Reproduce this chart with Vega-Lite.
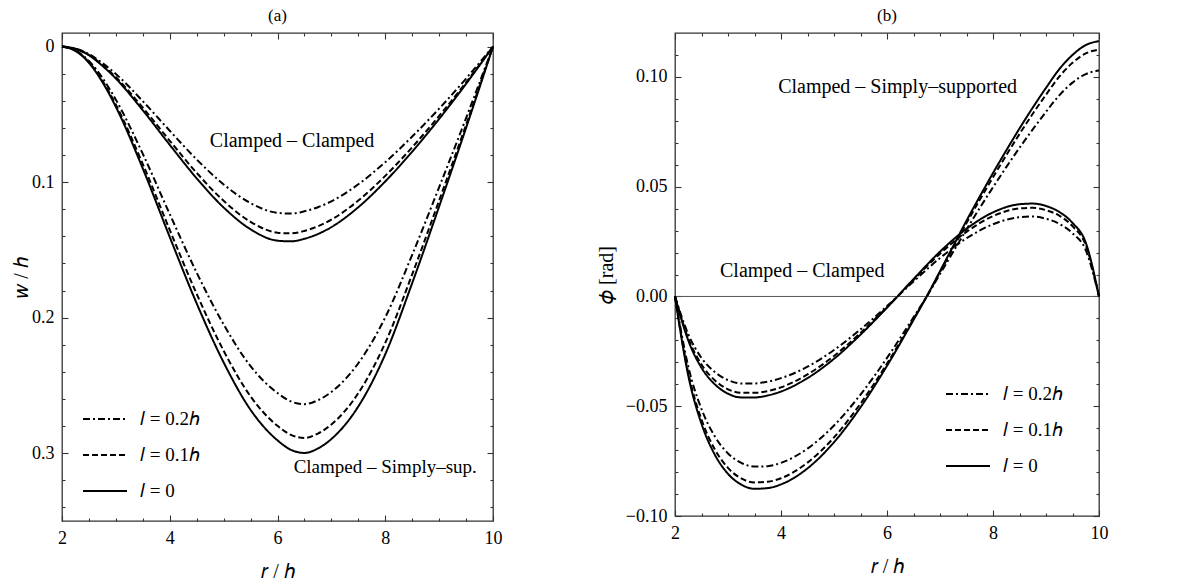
{
  "$schema": "https://vega.github.io/schema/vega-lite/v6.json",
  "padding": {"left": 10, "top": 6, "right": 5, "bottom": 5},
  "spacing": 182,
  "bounds": "flush",
  "config": {
    "font": "Liberation Serif",
    "style": {"guide-label": {"font": "Liberation Serif"}, "guide-title": {"font": "Liberation Serif"}},
    "view": {"stroke": "#333", "strokeWidth": 1.3},
    "axis": {"labelFont": "Liberation Serif", "labelFontSize": 18, "labelColor": "#000", "titleFont": "Liberation Serif", "titleFontSize": 20, "titleFontWeight": "normal", "titleColor": "#000", "tickColor": "#333", "tickWidth": 1.1, "domain": false, "grid": false, "labelFlush": false, "labelOverlap": false},
    "title": {"font": "Liberation Serif", "fontSize": 17, "fontWeight": "normal", "color": "#000", "offset": 7},
    "legend": {"symbolType": "stroke", "symbolSize": 1936, "symbolStrokeWidth": 2, "symbolStrokeColor": "black", "labelFont": "Liberation Serif", "labelFontSize": 19, "labelColor": "black", "labelOffset": 12, "rowPadding": 3, "padding": 0, "labelLimit": 300}
  },
  "datasets": {
    "a": [
      {"f": "CC", "r": 2, "l0": 0, "l1": 0, "l2": 0},
      {"f": "CC", "r": 2.25, "l0": 0.0017, "l1": 0.0016, "l2": 0.0015},
      {"f": "CC", "r": 2.5, "l0": 0.0064, "l1": 0.0061, "l2": 0.0055},
      {"f": "CC", "r": 2.75, "l0": 0.0142, "l1": 0.0136, "l2": 0.0122},
      {"f": "CC", "r": 3, "l0": 0.0236, "l1": 0.0226, "l2": 0.0202},
      {"f": "CC", "r": 3.5, "l0": 0.047, "l1": 0.0451, "l2": 0.0403},
      {"f": "CC", "r": 4, "l0": 0.0725, "l1": 0.0695, "l2": 0.0621},
      {"f": "CC", "r": 4.5, "l0": 0.0972, "l1": 0.0932, "l2": 0.0833},
      {"f": "CC", "r": 5, "l0": 0.1187, "l1": 0.1138, "l2": 0.1017},
      {"f": "CC", "r": 5.5, "l0": 0.1348, "l1": 0.1293, "l2": 0.1155},
      {"f": "CC", "r": 6, "l0": 0.1432, "l1": 0.1373, "l2": 0.1227},
      {"f": "CC", "r": 6.25, "l0": 0.1437, "l1": 0.1378, "l2": 0.1232},
      {"f": "CC", "r": 6.5, "l0": 0.1418, "l1": 0.136, "l2": 0.1215},
      {"f": "CC", "r": 6.75, "l0": 0.1383, "l1": 0.1326, "l2": 0.1185},
      {"f": "CC", "r": 7, "l0": 0.1332, "l1": 0.1277, "l2": 0.1142},
      {"f": "CC", "r": 7.5, "l0": 0.1185, "l1": 0.1136, "l2": 0.1016},
      {"f": "CC", "r": 8, "l0": 0.0995, "l1": 0.0954, "l2": 0.0853},
      {"f": "CC", "r": 8.5, "l0": 0.0775, "l1": 0.0743, "l2": 0.0664},
      {"f": "CC", "r": 9, "l0": 0.0534, "l1": 0.0512, "l2": 0.0458},
      {"f": "CC", "r": 9.5, "l0": 0.0275, "l1": 0.0264, "l2": 0.0236},
      {"f": "CC", "r": 10, "l0": 0, "l1": 0, "l2": 0},
      {"f": "CS", "r": 2, "l0": 0, "l1": 0, "l2": 0},
      {"f": "CS", "r": 2.25, "l0": 0.0032, "l1": 0.0031, "l2": 0.0028},
      {"f": "CS", "r": 2.5, "l0": 0.012, "l1": 0.0116, "l2": 0.0106},
      {"f": "CS", "r": 2.75, "l0": 0.0262, "l1": 0.0252, "l2": 0.0231},
      {"f": "CS", "r": 3, "l0": 0.0445, "l1": 0.0429, "l2": 0.0392},
      {"f": "CS", "r": 3.5, "l0": 0.09, "l1": 0.0867, "l2": 0.0792},
      {"f": "CS", "r": 4, "l0": 0.1405, "l1": 0.1353, "l2": 0.1236},
      {"f": "CS", "r": 4.5, "l0": 0.1895, "l1": 0.1825, "l2": 0.1668},
      {"f": "CS", "r": 5, "l0": 0.233, "l1": 0.2244, "l2": 0.205},
      {"f": "CS", "r": 5.5, "l0": 0.268, "l1": 0.2581, "l2": 0.2358},
      {"f": "CS", "r": 6, "l0": 0.2905, "l1": 0.2798, "l2": 0.2556},
      {"f": "CS", "r": 6.25, "l0": 0.2975, "l1": 0.2865, "l2": 0.2618},
      {"f": "CS", "r": 6.5, "l0": 0.2998, "l1": 0.2887, "l2": 0.2638},
      {"f": "CS", "r": 6.75, "l0": 0.2965, "l1": 0.2855, "l2": 0.2609},
      {"f": "CS", "r": 7, "l0": 0.2895, "l1": 0.2788, "l2": 0.2548},
      {"f": "CS", "r": 7.5, "l0": 0.2655, "l1": 0.2557, "l2": 0.2336},
      {"f": "CS", "r": 8, "l0": 0.227, "l1": 0.2186, "l2": 0.1998},
      {"f": "CS", "r": 8.5, "l0": 0.1745, "l1": 0.168, "l2": 0.1536},
      {"f": "CS", "r": 9, "l0": 0.118, "l1": 0.1136, "l2": 0.1038},
      {"f": "CS", "r": 9.5, "l0": 0.06, "l1": 0.0578, "l2": 0.0528},
      {"f": "CS", "r": 10, "l0": 0, "l1": 0, "l2": 0}
    ],
    "b": [
      {"f": "CC", "r": 2, "l0": 0, "l1": 0, "l2": 0},
      {"f": "CC", "r": 2.25, "l0": -0.02, "l1": -0.0191, "l2": -0.0172},
      {"f": "CC", "r": 2.5, "l0": -0.0325, "l1": -0.031, "l2": -0.028},
      {"f": "CC", "r": 2.75, "l0": -0.04, "l1": -0.0382, "l2": -0.0344},
      {"f": "CC", "r": 3, "l0": -0.0443, "l1": -0.0423, "l2": -0.0381},
      {"f": "CC", "r": 3.25, "l0": -0.046, "l1": -0.0439, "l2": -0.0396},
      {"f": "CC", "r": 3.5, "l0": -0.046, "l1": -0.0439, "l2": -0.0396},
      {"f": "CC", "r": 3.75, "l0": -0.0451, "l1": -0.0431, "l2": -0.0388},
      {"f": "CC", "r": 4, "l0": -0.0433, "l1": -0.0414, "l2": -0.0372},
      {"f": "CC", "r": 4.5, "l0": -0.0372, "l1": -0.0355, "l2": -0.032},
      {"f": "CC", "r": 5, "l0": -0.0284, "l1": -0.0271, "l2": -0.0244},
      {"f": "CC", "r": 5.5, "l0": -0.0174, "l1": -0.0166, "l2": -0.015},
      {"f": "CC", "r": 6, "l0": -0.0051, "l1": -0.0049, "l2": -0.0044},
      {"f": "CC", "r": 6.5, "l0": 0.0079, "l1": 0.0075, "l2": 0.0068},
      {"f": "CC", "r": 7, "l0": 0.0204, "l1": 0.0195, "l2": 0.0175},
      {"f": "CC", "r": 7.5, "l0": 0.0308, "l1": 0.0294, "l2": 0.0265},
      {"f": "CC", "r": 8, "l0": 0.0383, "l1": 0.0366, "l2": 0.0329},
      {"f": "CC", "r": 8.5, "l0": 0.042, "l1": 0.0401, "l2": 0.0361},
      {"f": "CC", "r": 8.75, "l0": 0.0423, "l1": 0.0404, "l2": 0.0364},
      {"f": "CC", "r": 9, "l0": 0.0412, "l1": 0.0393, "l2": 0.0354},
      {"f": "CC", "r": 9.25, "l0": 0.0385, "l1": 0.0368, "l2": 0.0331},
      {"f": "CC", "r": 9.5, "l0": 0.0335, "l1": 0.032, "l2": 0.0288},
      {"f": "CC", "r": 9.75, "l0": 0.0245, "l1": 0.0234, "l2": 0.0211},
      {"f": "CC", "r": 10, "l0": 0, "l1": 0, "l2": 0},
      {"f": "CS", "r": 2, "l0": 0, "l1": 0, "l2": 0},
      {"f": "CS", "r": 2.25, "l0": -0.036, "l1": -0.0348, "l2": -0.0319},
      {"f": "CS", "r": 2.5, "l0": -0.058, "l1": -0.0561, "l2": -0.0513},
      {"f": "CS", "r": 2.75, "l0": -0.072, "l1": -0.0696, "l2": -0.0637},
      {"f": "CS", "r": 3, "l0": -0.0808, "l1": -0.0781, "l2": -0.0715},
      {"f": "CS", "r": 3.25, "l0": -0.0857, "l1": -0.0829, "l2": -0.0758},
      {"f": "CS", "r": 3.5, "l0": -0.0876, "l1": -0.0847, "l2": -0.0775},
      {"f": "CS", "r": 3.75, "l0": -0.0873, "l1": -0.0844, "l2": -0.0773},
      {"f": "CS", "r": 4, "l0": -0.0856, "l1": -0.0828, "l2": -0.0758},
      {"f": "CS", "r": 4.5, "l0": -0.0783, "l1": -0.0757, "l2": -0.0693},
      {"f": "CS", "r": 5, "l0": -0.0664, "l1": -0.0642, "l2": -0.0588},
      {"f": "CS", "r": 5.5, "l0": -0.0505, "l1": -0.0488, "l2": -0.0447},
      {"f": "CS", "r": 6, "l0": -0.0316, "l1": -0.0306, "l2": -0.028},
      {"f": "CS", "r": 6.5, "l0": -0.0107, "l1": -0.0103, "l2": -0.0095},
      {"f": "CS", "r": 6.75, "l0": 0, "l1": 0, "l2": 0},
      {"f": "CS", "r": 7, "l0": 0.0115, "l1": 0.0111, "l2": 0.0102},
      {"f": "CS", "r": 7.25, "l0": 0.023, "l1": 0.0222, "l2": 0.0204},
      {"f": "CS", "r": 7.5, "l0": 0.0345, "l1": 0.0334, "l2": 0.0305},
      {"f": "CS", "r": 7.75, "l0": 0.0455, "l1": 0.044, "l2": 0.0403},
      {"f": "CS", "r": 8, "l0": 0.0562, "l1": 0.0543, "l2": 0.0497},
      {"f": "CS", "r": 8.25, "l0": 0.0665, "l1": 0.0643, "l2": 0.0589},
      {"f": "CS", "r": 8.5, "l0": 0.0765, "l1": 0.074, "l2": 0.0677},
      {"f": "CS", "r": 8.75, "l0": 0.086, "l1": 0.0832, "l2": 0.0761},
      {"f": "CS", "r": 9, "l0": 0.095, "l1": 0.0919, "l2": 0.0841},
      {"f": "CS", "r": 9.25, "l0": 0.1035, "l1": 0.1001, "l2": 0.0916},
      {"f": "CS", "r": 9.5, "l0": 0.11, "l1": 0.1064, "l2": 0.0974},
      {"f": "CS", "r": 9.75, "l0": 0.1145, "l1": 0.1107, "l2": 0.1013},
      {"f": "CS", "r": 10, "l0": 0.1163, "l1": 0.1125, "l2": 0.1029}
    ]
  },
  "resolve": {"scale": {"strokeDash": "independent"}, "legend": {"strokeDash": "independent"}},
  "hconcat": [
    {
      "width": 431,
      "height": 488,
      "title": {"text": "(a)", "font": "Liberation Serif", "fontSize": 17, "fontWeight": "normal", "offset": 7},
      "data": {"name": "a"},
      "transform": [{"fold": ["l0", "l1", "l2"], "as": ["l", "v"]}],
      "resolve": {"axis": {"x": "independent", "y": "independent"}},
      "layer": [
        {
          "mark": {"type": "line", "color": "black", "strokeWidth": 2, "interpolate": "monotone"},
          "encoding": {
            "x": {"field": "r", "type": "quantitative", "scale": {"domain": [2, 10], "nice": false, "zero": false},
              "axis": {"orient": "bottom", "values": [2, 4, 6, 8, 10], "tickSize": -6, "labelPadding": 14, "labelFont": "Liberation Serif", "labelFontSize": 18, "title": "𝑟 / ℎ", "titleFont": "Liberation Serif", "titleFontSize": 20, "titleFontWeight": "normal", "titlePadding": 14}},
            "y": {"field": "v", "type": "quantitative", "scale": {"domain": [-0.01, 0.35], "reverse": true, "nice": false, "zero": false},
              "axis": {"orient": "left", "values": [0, 0.1, 0.2, 0.3], "format": ".1~f", "tickSize": -6, "labelPadding": 14, "labelFont": "Liberation Serif", "labelFontSize": 18, "title": "𝑤 / ℎ", "titleFont": "Liberation Serif", "titleFontSize": 20, "titleFontWeight": "normal", "titlePadding": 0}},
            "strokeDash": {"field": "l", "type": "nominal", "scale": {"domain": ["l2", "l1", "l0"], "range": [[7, 3, 2, 3], [6, 3], [1, 0]]},
              "legend": {"orient": "none", "legendX": 20, "legendY": 363, "title": null, "labelFont": "Liberation Serif", "labelFontSize": 19, "rowPadding": 3, "labelExpr": "datum.label == 'l0' ? '𝑙 = 0' : datum.label == 'l1' ? '𝑙 = 0.1ℎ' : '𝑙 = 0.2ℎ'"}},
            "detail": {"field": "f"}
          }
        },
        {
          "mark": {"type": "point", "opacity": 0},
          "encoding": {
            "x": {"field": "r", "type": "quantitative", "axis": {"orient": "top", "values": [2, 4, 6, 8, 10], "tickSize": -6, "labels": false, "title": null}},
            "y": {"field": "v", "type": "quantitative", "axis": {"orient": "right", "values": [0, 0.1, 0.2, 0.3], "tickSize": -6, "labels": false, "title": null}}
          }
        },
        {
          "mark": {"type": "point", "opacity": 0},
          "encoding": {
            "x": {"field": "r", "type": "quantitative", "axis": {"orient": "bottom", "values": [2.5, 3, 3.5, 4.5, 5, 5.5, 6.5, 7, 7.5, 8.5, 9, 9.5], "tickSize": -3, "labels": false, "title": null}},
            "y": {"field": "v", "type": "quantitative", "axis": {"orient": "left", "values": [0.02, 0.04, 0.06, 0.08, 0.12, 0.14, 0.16, 0.18, 0.22, 0.24, 0.26, 0.28, 0.32, 0.34], "tickSize": -3, "labels": false, "title": null}}
          }
        },
        {
          "mark": {"type": "point", "opacity": 0},
          "encoding": {
            "x": {"field": "r", "type": "quantitative", "axis": {"orient": "top", "values": [2.5, 3, 3.5, 4.5, 5, 5.5, 6.5, 7, 7.5, 8.5, 9, 9.5], "tickSize": -3, "labels": false, "title": null}},
            "y": {"field": "v", "type": "quantitative", "axis": {"orient": "right", "values": [0.02, 0.04, 0.06, 0.08, 0.12, 0.14, 0.16, 0.18, 0.22, 0.24, 0.26, 0.28, 0.32, 0.34], "tickSize": -3, "labels": false, "title": null}}
          }
        },
        {
          "data": {"values": [{"t": "Clamped – Clamped"}]},
          "mark": {"type": "text", "font": "Liberation Serif", "fontSize": 20, "color": "black"},
          "encoding": {
            "x": {"datum": 6.27, "type": "quantitative", "axis": null},
            "y": {"datum": 0.07, "type": "quantitative", "axis": null},
            "text": {"field": "t"}
          }
        },
        {
          "data": {"values": [{"t": "Clamped – Simply–sup."}]},
          "mark": {"type": "text", "font": "Liberation Serif", "fontSize": 19, "color": "black"},
          "encoding": {
            "x": {"datum": 8.0, "type": "quantitative", "axis": null},
            "y": {"datum": 0.31, "type": "quantitative", "axis": null},
            "text": {"field": "t"}
          }
        }
      ]
    },
    {
      "width": 424,
      "height": 483,
      "title": {"text": "(b)", "font": "Liberation Serif", "fontSize": 17, "fontWeight": "normal", "offset": 7},
      "data": {"name": "b"},
      "transform": [{"fold": ["l0", "l1", "l2"], "as": ["l", "v"]}],
      "resolve": {"axis": {"x": "independent", "y": "independent"}},
      "layer": [
        {
          "data": {"values": [{"z": 0}]},
          "mark": {"type": "rule", "color": "#555", "strokeWidth": 1},
          "encoding": {
            "y": {"field": "z", "type": "quantitative", "axis": null}
          }
        },
        {
          "mark": {"type": "line", "color": "black", "strokeWidth": 2, "interpolate": "monotone"},
          "encoding": {
            "x": {"field": "r", "type": "quantitative", "scale": {"domain": [2, 10], "nice": false, "zero": false},
              "axis": {"orient": "bottom", "values": [2, 4, 6, 8, 10], "tickSize": -6, "labelPadding": 14, "labelFont": "Liberation Serif", "labelFontSize": 18, "title": "𝑟 / ℎ", "titleFont": "Liberation Serif", "titleFontSize": 20, "titleFontWeight": "normal", "titlePadding": 14}},
            "y": {"field": "v", "type": "quantitative", "scale": {"domain": [-0.1, 0.12], "nice": false, "zero": false},
              "axis": {"orient": "left", "values": [-0.1, -0.05, 0, 0.05, 0.1], "format": ".2f", "tickSize": -6, "labelPadding": 14, "labelFont": "Liberation Serif", "labelFontSize": 18, "title": "𝜙 [rad]", "titleFont": "Liberation Serif", "titleFontSize": 20, "titleFontWeight": "normal", "titlePadding": 9}},
            "strokeDash": {"field": "l", "type": "nominal", "scale": {"domain": ["l2", "l1", "l0"], "range": [[7, 3, 2, 3], [6, 3], [1, 0]]},
              "legend": {"orient": "none", "legendX": 270, "legendY": 338, "title": null, "labelFont": "Liberation Serif", "labelFontSize": 19, "rowPadding": 3, "labelExpr": "datum.label == 'l0' ? '𝑙 = 0' : datum.label == 'l1' ? '𝑙 = 0.1ℎ' : '𝑙 = 0.2ℎ'"}},
            "detail": {"field": "f"}
          }
        },
        {
          "mark": {"type": "point", "opacity": 0},
          "encoding": {
            "x": {"field": "r", "type": "quantitative", "axis": {"orient": "top", "values": [2, 4, 6, 8, 10], "tickSize": -6, "labels": false, "title": null}},
            "y": {"field": "v", "type": "quantitative", "axis": {"orient": "right", "values": [-0.1, -0.05, 0, 0.05, 0.1], "tickSize": -6, "labels": false, "title": null}}
          }
        },
        {
          "mark": {"type": "point", "opacity": 0},
          "encoding": {
            "x": {"field": "r", "type": "quantitative", "axis": {"orient": "bottom", "values": [2.5, 3, 3.5, 4.5, 5, 5.5, 6.5, 7, 7.5, 8.5, 9, 9.5], "tickSize": -3, "labels": false, "title": null}},
            "y": {"field": "v", "type": "quantitative", "axis": {"orient": "left", "values": [-0.09, -0.08, -0.07, -0.06, -0.04, -0.03, -0.02, -0.01, 0.01, 0.02, 0.03, 0.04, 0.06, 0.07, 0.08, 0.09, 0.11], "tickSize": -3, "labels": false, "title": null}}
          }
        },
        {
          "mark": {"type": "point", "opacity": 0},
          "encoding": {
            "x": {"field": "r", "type": "quantitative", "axis": {"orient": "top", "values": [2.5, 3, 3.5, 4.5, 5, 5.5, 6.5, 7, 7.5, 8.5, 9, 9.5], "tickSize": -3, "labels": false, "title": null}},
            "y": {"field": "v", "type": "quantitative", "axis": {"orient": "right", "values": [-0.09, -0.08, -0.07, -0.06, -0.04, -0.03, -0.02, -0.01, 0.01, 0.02, 0.03, 0.04, 0.06, 0.07, 0.08, 0.09, 0.11], "tickSize": -3, "labels": false, "title": null}}
          }
        },
        {
          "data": {"values": [{"t": "Clamped – Simply–supported"}]},
          "mark": {"type": "text", "font": "Liberation Serif", "fontSize": 20, "color": "black"},
          "encoding": {
            "x": {"datum": 6.2, "type": "quantitative", "axis": null},
            "y": {"datum": 0.0955, "type": "quantitative", "axis": null},
            "text": {"field": "t"}
          }
        },
        {
          "data": {"values": [{"t": "Clamped – Clamped"}]},
          "mark": {"type": "text", "font": "Liberation Serif", "fontSize": 20, "color": "black"},
          "encoding": {
            "x": {"datum": 4.4, "type": "quantitative", "axis": null},
            "y": {"datum": 0.0115, "type": "quantitative", "axis": null},
            "text": {"field": "t"}
          }
        }
      ]
    }
  ]
}
